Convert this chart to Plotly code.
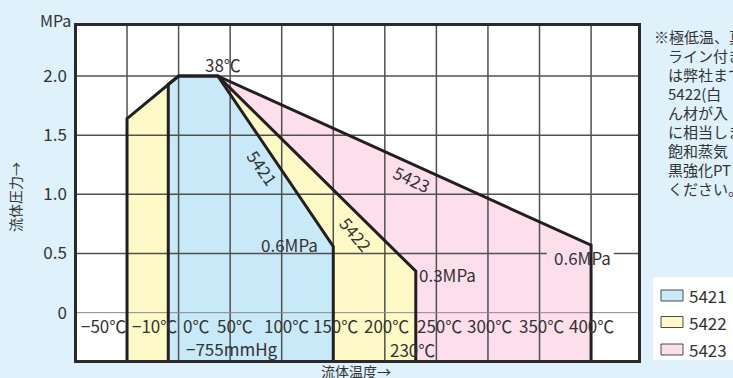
import plotly.graph_objects as go

# ---------------- data ----------------
series_names = ["5421", "5422", "5423"]

temp_5421 = [-10, 0, 38, 150]
pres_5421 = [1.93, 2.0, 2.0, 0.56]

temp_5422 = [-50, 0, 38, 230]
pres_5422 = [1.64, 2.0, 2.0, 0.35]

temp_5423 = [38, 400]
pres_5423 = [2.0, 0.57]

y_tick_values = [0, 0.5, 1.0, 1.5, 2.0]
y_tick_labels = ["0", "0.5", "1.0", "1.5", "2.0"]

x_tick_values = [-50, -10, 0, 50, 100, 150, 200, 250, 300, 350, 400]
x_tick_labels = ["−50℃", "−10℃", "0℃", "50℃", "100℃", "150℃", "200℃",
                 "250℃", "300℃", "350℃", "400℃"]

grid_temps = [-50, 0, 50, 100, 150, 200, 250, 300, 350, 400]
grid_pres = [0.5, 1.0, 1.5, 2.0]

note_lines = ["※極低温、真", "ライン付き", "は弊社まで", "5422(白",
              "ん材が入", "に相当しま", "飽和蒸気", "黒強化PT", "ください。"]

# ---------------- style / layout ----------------
W, H = 733, 378
ML, MR, MT, MB = 77, 95, 26, 18
X_RANGE = [-98.5, 445.5]
Y_RANGE = [-0.40, 2.4225]
FONT = "Noto Sans CJK JP, Noto Sans, sans-serif"
TXT = "#333333"
BG = "#dff1fa"
fills = {"5421": "#c8e9f8", "5422": "#fff9c6", "5423": "#fcdfeb"}
EDGE = "#231f20"
GRID = "#505050"
NUM = 17


def px_x(px):
    return (px - ML) / (W - ML - MR)


def px_y(py):
    return (H - MB - py) / (H - MT - MB)


y_bot = Y_RANGE[0]
series = {
    "5421": (temp_5421, pres_5421, True),
    "5422": (temp_5422, pres_5422, True),
    "5423": (temp_5423, pres_5423, False),
}

fig = go.Figure()

# fills (back to front: 5423, 5422, 5421)
for name in ["5423", "5422", "5421"]:
    t, p, _ = series[name]
    xs = list(t) + [t[-1], t[0]]
    ys = list(p) + [y_bot, y_bot]
    fig.add_trace(go.Scatter(x=xs, y=ys, fill="toself", fillcolor=fills[name],
                             mode="lines", line=dict(width=0), name=name,
                             showlegend=False, hoverinfo="skip"))

# grid lines (over fills)
gx, gy = [], []
for t in grid_temps:
    gx += [t, t, None]
    gy += [Y_RANGE[0], Y_RANGE[1], None]
for p in grid_pres:
    if p == 0.5:
        gx += [X_RANGE[0], 357, None, 422, X_RANGE[1], None]
        gy += [p, p, None, p, p, None]
    else:
        gx += [X_RANGE[0], X_RANGE[1], None]
        gy += [p, p, None]
fig.add_trace(go.Scatter(x=gx, y=gy, mode="lines", line=dict(color=GRID, width=1.5),
                         showlegend=False, hoverinfo="skip"))
fig.add_trace(go.Scatter(x=X_RANGE, y=[0, 0], mode="lines",
                         line=dict(color="#8a8a8a", width=1),
                         showlegend=False, hoverinfo="skip"))

# outlines
for name in ["5423", "5422", "5421"]:
    t, p, left_edge = series[name]
    xs = ([t[0]] if left_edge else []) + list(t) + [t[-1]]
    ys = ([y_bot] if left_edge else []) + list(p) + [y_bot]
    fig.add_trace(go.Scatter(x=xs, y=ys, mode="lines",
                             line=dict(color=EDGE, width=3),
                             showlegend=False, hoverinfo="skip"))

ann = []


def txt(x, y, text, size=NUM, xref="x", yref="y", xanchor="center", angle=0):
    return dict(x=x, y=y, xref=xref, yref=yref, text=text, showarrow=False,
                xanchor=xanchor, yanchor="middle", textangle=angle,
                font=dict(size=size, color=TXT))


# x labels inside the plot
x_label_pos = [-73, -23, 16.5, 54.5, 105, 152, 201.5, 253, 301.5, 352, 400.5]
for lab, xp in zip(x_tick_labels, x_label_pos):
    ann.append(txt(xp, -0.108, lab))

ann += [
    txt(52, -0.307, "−755mmHg"),
    txt(226.4, -0.311, "230℃"),
    txt(43, 2.097, "38℃"),
    txt(108, 0.572, "0.6MPa"),
    txt(260.4, 0.319, "0.3MPa"),
    txt(391.3, 0.468, "0.6MPa"),
    txt(81.4, 1.227, series_names[0], angle=55),
    txt(171.6, 0.665, series_names[1], angle=50),
    txt(225.9, 1.13, series_names[2], angle=25),
]

# axis titles
ann += [
    txt(px_x(55), px_y(20), "MPa", size=16, xref="paper", yref="paper"),
    txt(px_x(15), px_y(197), "流体圧力→", size=14, xref="paper", yref="paper", angle=-90),
    txt(px_x(356), px_y(371), "流体温度→", size=14, xref="paper", yref="paper"),
]

# note text
for i, line in enumerate(note_lines):
    xpx = 652 if i == 0 else 666
    ann.append(txt(px_x(xpx), px_y(36.7 + 19 * i), line, size=15,
                   xref="paper", yref="paper", xanchor="left"))

shapes = []
# legend box
shapes.append(dict(type="rect", xref="paper", yref="paper", x0=px_x(653), x1=px_x(745),
                   y0=px_y(360), y1=px_y(277), fillcolor="white", line=dict(width=0),
                   layer="above"))
leg_y = [295.5, 322, 349.5]
for name, yc in zip(series_names, leg_y):
    shapes.append(dict(type="rect", xref="paper", yref="paper", x0=px_x(661), x1=px_x(683),
                       y0=px_y(yc + 5.5), y1=px_y(yc - 5.5), fillcolor=fills[name],
                       line=dict(color="#4a4a4a", width=1), layer="above"))
    ann.append(txt(px_x(687), px_y(yc), name, xref="paper", yref="paper", xanchor="left"))

fig.update_layout(
    width=W, height=H, autosize=False,
    margin=dict(l=ML, r=MR, t=MT, b=MB, pad=0),
    paper_bgcolor=BG, plot_bgcolor="white",
    font=dict(family=FONT, color=TXT),
    showlegend=False,
    xaxis=dict(range=X_RANGE, showgrid=False, zeroline=False, showticklabels=False,
               ticks="", showline=True, mirror=True, linecolor="#2a2a2a", linewidth=2.5,
               fixedrange=True),
    yaxis=dict(range=Y_RANGE, showgrid=False, zeroline=False, tickvals=y_tick_values,
               ticktext=y_tick_labels, ticks="", tickfont=dict(size=NUM, color=TXT),
               showline=True, mirror=True, linecolor="#2a2a2a", linewidth=2.5,
               ticklabelstandoff=4, fixedrange=True),
    annotations=ann, shapes=shapes,
)

fig.write_html("out.html", config={"displayModeBar": False},
               post_script="document.body.style.margin='0';"
                           "document.body.style.overflow='hidden';")
